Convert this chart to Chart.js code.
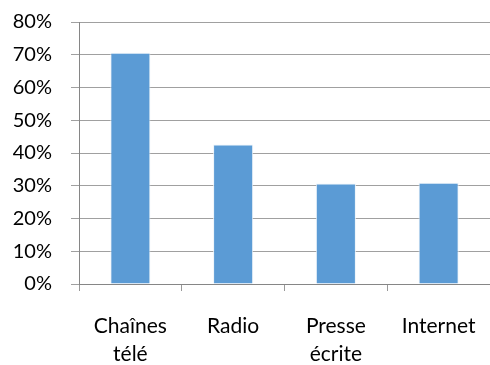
<!DOCTYPE html>
<html>
<head>
<meta charset="utf-8">
<script src="https://cdn.jsdelivr.net/npm/chart.js@4"></script>
<style>
  html, body { margin: 0; padding: 0; background: #ffffff; }
  #wrap { width: 490px; height: 365px; }
</style>
</head>
<body>
<div id="wrap"><canvas id="chart" width="490" height="365"></canvas></div>
<script>
// Media categories (multi-line labels) and their share, in percent
const categories = [['Chaînes', 'télé'], 'Radio', ['Presse', 'écrite'], 'Internet'];
const shares = [70.6, 42.6, 30.7, 30.9];
const yTicks = [0, 10, 20, 30, 40, 50, 60, 70, 80];

const yFont = { family: 'Lato, "Open Sans", sans-serif', size: 20, lineHeight: 1.2 };
const xFont = { family: 'Lato, "Open Sans", sans-serif', size: 21, lineHeight: 1.33 };

new Chart(document.getElementById('chart'), {
  type: 'bar',
  data: {
    labels: categories,
    datasets: [{
      data: shares,
      backgroundColor: '#5b9bd5',
      borderColor: 'rgba(235,243,250,0.9)',
      borderWidth: 1,
      barPercentage: 0.39,
      categoryPercentage: 1
    }]
  },
  options: {
    responsive: false,
    animation: false,
    layout: { padding: { top: 22, right: 0, left: 0, bottom: 0 } },
    plugins: { legend: { display: false }, tooltip: { enabled: false } },
    scales: {
      x: {
        offset: true,
        grid: {
          offset: true,
          drawOnChartArea: false,
          color: '#999999',
          tickLength: 7
        },
        border: { color: '#868686', width: 1 },
        ticks: { color: '#000000', font: xFont, padding: 21, maxRotation: 0, autoSkip: false },
        afterFit: (s) => { s.height = 81; s.paddingLeft = 0; s.paddingRight = 0; }
      },
      y: {
        min: 0,
        max: 80,
        afterBuildTicks: (s) => { s.ticks = yTicks.map(v => ({ value: v })); },
        grid: { color: '#a0a0a0', tickLength: 8 },
        border: { color: '#868686', width: 1 },
        ticks: {
          color: '#000000',
          font: yFont,
          padding: 19,
          callback: (v) => v + '%'
        },
        afterFit: (s) => { s.width = 79; s.paddingTop = 0; s.paddingBottom = 0; }
      }
    }
  }
});
</script>
</body>
</html>
